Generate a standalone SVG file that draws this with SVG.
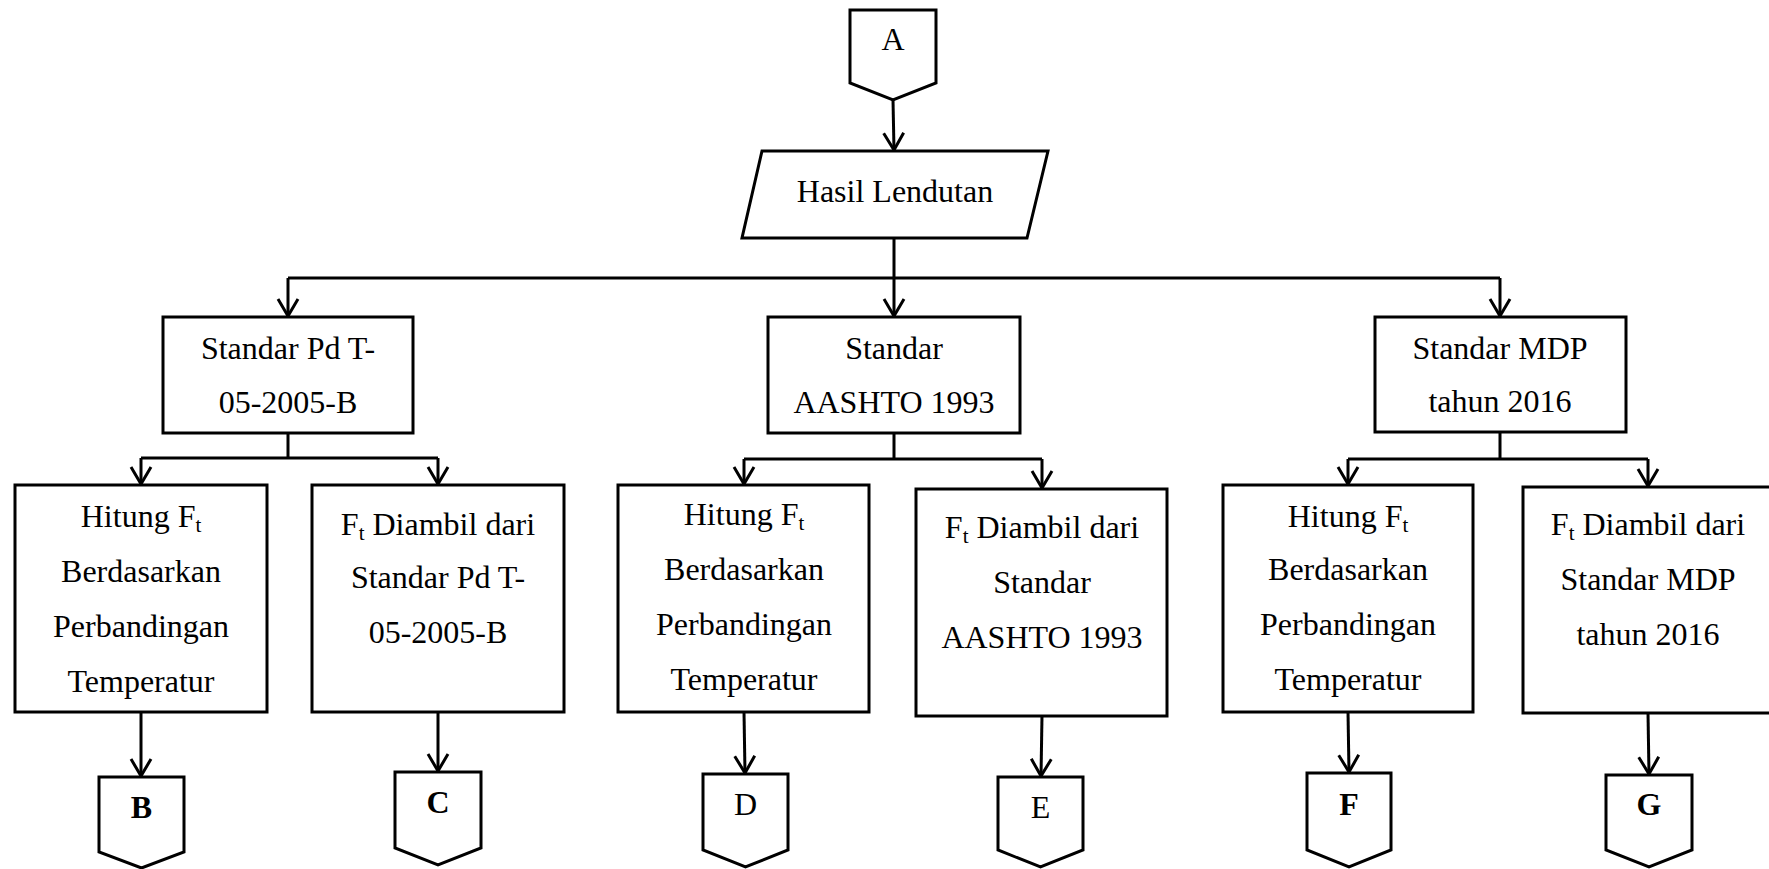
<svg xmlns="http://www.w3.org/2000/svg" width="1769" height="869" viewBox="0 0 1769 869">
<style>
.s{fill:#fff;stroke:#000;stroke-width:3;stroke-linejoin:miter}
.c{fill:none;stroke:#000;stroke-width:3}
text{font-family:"Liberation Serif","Times New Roman",serif;font-size:32px;fill:#000;text-anchor:middle}
.b{font-weight:bold}
.sub{font-size:21px}
</style>
<defs>
<marker id="arr" markerUnits="userSpaceOnUse" markerWidth="40" markerHeight="40" refX="0" refY="0" orient="auto" overflow="visible" viewBox="-20 -20 40 40">
<path d="M-17,-10 L0,0 L-17,10" fill="none" stroke="#000" stroke-width="3"/>
</marker>
</defs>
<rect width="1769" height="869" fill="#fff"/>
<g id="connectors">
<path class="c" d="M893,100 L894,150" marker-end="url(#arr)"/>
<path class="c" d="M894,238 L894,278 M288,278 L1500,278"/>
<path class="c" d="M288,278 L288,316" marker-end="url(#arr)"/>
<path class="c" d="M894,278 L894,316" marker-end="url(#arr)"/>
<path class="c" d="M1500,278 L1500,316" marker-end="url(#arr)"/>
<path class="c" d="M288,433 L288,458 M141,458 L438,458"/>
<path class="c" d="M141,458 L141,484" marker-end="url(#arr)"/>
<path class="c" d="M438,458 L438,484" marker-end="url(#arr)"/>
<path class="c" d="M894,433 L894,459 M744,459 L1042,459"/>
<path class="c" d="M744,459 L744,484" marker-end="url(#arr)"/>
<path class="c" d="M1042,459 L1042,488" marker-end="url(#arr)"/>
<path class="c" d="M1500,432 L1500,459 M1348,459 L1648,459"/>
<path class="c" d="M1348,459 L1348,484" marker-end="url(#arr)"/>
<path class="c" d="M1648,459 L1648,486" marker-end="url(#arr)"/>
<path class="c" d="M141,712 L141,776" marker-end="url(#arr)"/>
<path class="c" d="M438,712 L438,771" marker-end="url(#arr)"/>
<path class="c" d="M744,712 L745,773" marker-end="url(#arr)"/>
<path class="c" d="M1042,716 L1041,776" marker-end="url(#arr)"/>
<path class="c" d="M1348,712 L1349,772" marker-end="url(#arr)"/>
<path class="c" d="M1648,713 L1649,774" marker-end="url(#arr)"/>
</g>
<g id="nodeA">
<path class="s" d="M850,10 L936,10 L936,83 L893,100 L850,83 Z"/>
<text x="893" y="50">A</text>
</g>
<g id="hasil">
<path class="s" d="M762,151 L1048,151 L1027,238 L742,238 Z"/>
<text x="895" y="202">Hasil Lendutan</text>
</g>
<g id="pd">
<rect class="s" x="163" y="317" width="250" height="116"/>
<text x="288" y="359">Standar Pd T-</text>
<text x="288" y="413">05-2005-B</text>
</g>
<g id="aashto">
<rect class="s" x="768" y="317" width="252" height="116"/>
<text x="894" y="359">Standar</text>
<text x="894" y="413">AASHTO 1993</text>
</g>
<g id="mdp">
<rect class="s" x="1375" y="317" width="251" height="115"/>
<text x="1500" y="359">Standar MDP</text>
<text x="1500" y="412">tahun 2016</text>
</g>
<g id="hitung1">
<rect class="s" x="15" y="485" width="252" height="227"/>
<text x="141" y="527">Hitung F<tspan class="sub" dy="5">t</tspan></text>
<text x="141" y="582">Berdasarkan</text>
<text x="141" y="637">Perbandingan</text>
<text x="141" y="692">Temperatur</text>
</g>
<g id="ft1">
<rect class="s" x="312" y="485" width="252" height="227"/>
<text x="438" y="535">F<tspan class="sub" dy="5">t</tspan><tspan dy="-5"> Diambil dari</tspan></text>
<text x="438" y="588">Standar Pd T-</text>
<text x="438" y="643">05-2005-B</text>
</g>
<g id="hitung2">
<rect class="s" x="618" y="485" width="251" height="227"/>
<text x="744" y="525">Hitung F<tspan class="sub" dy="5">t</tspan></text>
<text x="744" y="580">Berdasarkan</text>
<text x="744" y="635">Perbandingan</text>
<text x="744" y="690">Temperatur</text>
</g>
<g id="ft2">
<rect class="s" x="916" y="489" width="251" height="227"/>
<text x="1042" y="538">F<tspan class="sub" dy="5">t</tspan><tspan dy="-5"> Diambil dari</tspan></text>
<text x="1042" y="593">Standar</text>
<text x="1042" y="648">AASHTO 1993</text>
</g>
<g id="hitung3">
<rect class="s" x="1223" y="485" width="250" height="227"/>
<text x="1348" y="527">Hitung F<tspan class="sub" dy="5">t</tspan></text>
<text x="1348" y="580">Berdasarkan</text>
<text x="1348" y="635">Perbandingan</text>
<text x="1348" y="690">Temperatur</text>
</g>
<g id="ft3">
<rect class="s" x="1523" y="487" width="250" height="226"/>
<text x="1648" y="535">F<tspan class="sub" dy="5">t</tspan><tspan dy="-5"> Diambil dari</tspan></text>
<text x="1648" y="590">Standar MDP</text>
<text x="1648" y="645">tahun 2016</text>
</g>
<g id="nodeB">
<path class="s" d="M99,777 L184,777 L184,852 L141.5,868 L99,852 Z"/>
<text class="b" x="141.5" y="818">B</text>
</g>
<g id="nodeC">
<path class="s" d="M395,772 L481,772 L481,848 L438,865 L395,848 Z"/>
<text class="b" x="438" y="813">C</text>
</g>
<g id="nodeD">
<path class="s" d="M703,774 L788,774 L788,850 L745.5,867 L703,850 Z"/>
<text x="745.5" y="815">D</text>
</g>
<g id="nodeE">
<path class="s" d="M998,777 L1083,777 L1083,850 L1040.5,867 L998,850 Z"/>
<text x="1040.5" y="818">E</text>
</g>
<g id="nodeF">
<path class="s" d="M1307,773 L1391,773 L1391,850 L1349,867 L1307,850 Z"/>
<text class="b" x="1349" y="815">F</text>
</g>
<g id="nodeG">
<path class="s" d="M1606,775 L1692,775 L1692,850 L1649,867 L1606,850 Z"/>
<text class="b" x="1649" y="815">G</text>
</g>
</svg>
